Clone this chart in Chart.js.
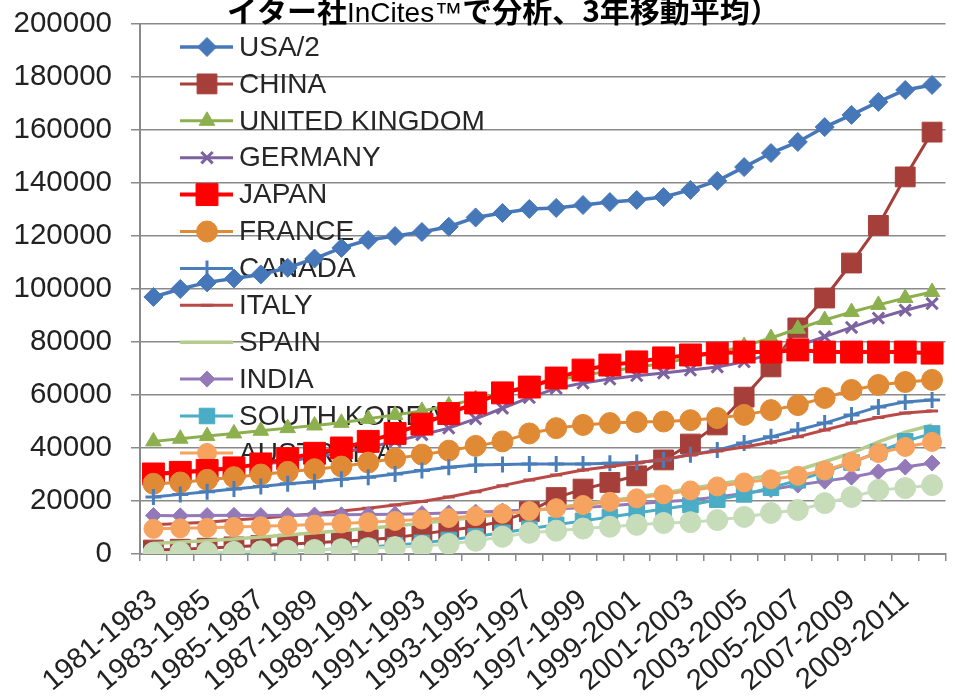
<!DOCTYPE html>
<html>
<head>
<meta charset="utf-8">
<script src="https://cdn.jsdelivr.net/npm/chart.js@4.4.1/dist/chart.umd.min.js"></script>
<style>
  html, body { margin: 0; padding: 0; background: #fff; overflow: hidden; width: 955px; height: 697px; }
  canvas { display: block; }
</style>
</head>
<body>
<canvas id="chart" width="962" height="697"></canvas>
<script>
// 3-year moving windows
const periods = ['1981-1983','1982-1984','1983-1985','1984-1986','1985-1987','1986-1988','1987-1989','1988-1990',
  '1989-1991','1990-1992','1991-1993','1992-1994','1993-1995','1994-1996','1995-1997','1996-1998','1997-1999',
  '1998-2000','1999-2001','2000-2002','2001-2003','2002-2004','2003-2005','2004-2006','2005-2007','2006-2008',
  '2007-2009','2008-2010','2009-2011','2010-2012'];

const yTicks = [0, 20000, 40000, 60000, 80000, 100000, 120000, 140000, 160000, 180000, 200000];

// values
const usa = [97000,100000,102500,104000,105500,108000,111500,115500,118500,120000,121500,123500,127000,128700,130200,
  130600,131700,132800,133600,134700,137400,140800,146000,151300,155500,161100,165700,170600,175100,177000];
const china = [1500,1800,2200,2700,3200,3700,4200,4800,5400,6200,7500,9000,10200,12500,16000,21300,24500,27000,29500,
  35500,41500,48700,59200,70600,85300,96600,109800,124000,142300,159200];
const uk = [42500,43500,44500,45500,46500,47500,48500,49500,51000,52500,54000,56000,58500,61000,63500,65500,67500,69000,
  70500,72000,74000,76000,78500,81500,85000,88300,91300,94000,96600,98900];
const germany = [30500,31000,31800,32700,33800,35000,36500,38200,40200,42500,45000,47500,51000,55000,59000,62500,64500,
  66000,67300,68300,69400,70600,72500,75500,78500,82000,85500,89000,92000,94500];
const japan = [30200,30800,31500,32500,34000,36000,38000,40000,42500,45500,49000,53000,57000,60800,63000,66400,69400,
  71300,72500,74000,75100,75800,76200,76200,77000,76200,76200,76200,76200,75800];
const france = [26500,27000,28000,29000,30000,31000,32000,33000,34500,36000,37500,39000,40800,42500,45500,47500,48700,
  49400,49800,50000,50500,51300,52500,54300,56200,58900,61900,63800,64900,65700];
const canada = [21500,22500,23500,24500,25500,26500,27300,28200,29000,30200,31500,32700,33600,33800,34000,34000,34000,
  34200,34500,35500,37500,39200,41900,44200,46800,49400,52500,55500,57400,58100];
const italy = [11000,11500,12000,12800,13500,14300,15200,16200,17300,18500,19800,21500,23500,25800,27900,29800,31700,
  33000,34300,35800,37400,38900,40400,42200,44200,46800,49400,51500,53200,54000];
const spain = [4000,4500,5000,5700,6400,7200,8000,8800,9700,10600,11600,12700,13900,15100,16300,17500,18800,20100,
  21500,23000,24700,26300,27900,29800,31700,34800,38100,42300,46000,48700];
const india = [14500,14400,14500,14600,14500,14600,14700,14800,14900,15000,15200,15500,15800,16200,16600,17000,17500,
  18200,19000,19700,20400,21500,22800,24300,26000,27500,29000,31000,32800,34300];
const korea = [300,350,450,600,800,1100,1500,2000,2600,3300,4200,5300,6600,8000,9500,11000,12500,14000,15500,17000,
  18500,20500,22500,25000,27800,31000,34500,38500,42500,45500];
const australia = [9500,9700,9900,10200,10500,10800,11100,11500,12000,12500,13000,13600,14300,15200,16200,17300,18500,
  19700,21000,22500,24000,25500,27000,28200,29500,31500,34700,38100,40400,42300];
// pale green series whose legend entry is cut off in the picture
const unlisted = [500,600,700,800,1000,1200,1500,1800,2200,2600,3000,3800,5000,6500,8000,8800,9600,10300,11000,11700,
  12000,12800,14000,15500,16600,19200,21500,24200,24900,26000];

const titleText = ['イター社', 'InCites™', 'で分析、3年移動平均）'];

function series(label, data, color, style, radius, width){
  return {
    label, data,
    borderColor: color, backgroundColor: color,
    pointBackgroundColor: color, pointBorderColor: color,
    pointStyle: style || 'circle',
    pointRadius: radius, pointHoverRadius: radius,
    pointBorderWidth: (style === 'cross' || style === 'crossRot' || style === 'line') ? 3 : 1,
    borderWidth: width,
    tension: 0
  };
}

const datasets = [
  series('USA/2', usa, '#4677B8', 'rectRot', 9.5, 3.5),
  series('CHINA', china, '#A63F3A', 'rect', 14, 3),
  series('UNITED KINGDOM', uk, '#8DB04F', 'triangle', 9, 3),
  series('GERMANY', germany, '#7C62A0', 'crossRot', 8, 3),
  series('JAPAN', japan, '#FF0000', 'rect', 15.5, 4),
  series('FRANCE', france, '#E08A35', 'circle', 10.5, 3),
  series('CANADA', canada, '#4A7EBB', 'cross', 8, 3),
  series('ITALY', italy, '#B94A48', 'line', 6, 3),
  series('SPAIN', spain, '#B5CC8C', 'circle', 0, 3.5),
  series('INDIA', india, '#9479B9', 'rectRot', 8, 3),
  series('SOUTH KOREA', korea, '#4BACC6', 'rect', 11, 3),
  series('AUSTRALIA', australia, '#F5A35F', 'circle', 9.5, 3),
  series('', unlisted, '#C7DDBA', 'circle', 10.5, 3)
];
// later series on top, as in the spreadsheet
datasets.forEach((d, i) => { d.order = -i; });

// legend drawn inside the plot, under the lines
const insideLegend = {
  id: 'insideLegend',
  beforeDatasetsDraw(chart){
    const ctx = chart.ctx;
    ctx.save();
    let row = 0;
    chart.data.datasets.forEach(ds => {
      if (!ds.label) return;
      const y = 47 + row * 36.9;
      ctx.strokeStyle = ds.borderColor;
      ctx.fillStyle = ds.borderColor;
      ctx.lineWidth = ds.borderWidth;
      ctx.beginPath(); ctx.moveTo(180, y); ctx.lineTo(233, y); ctx.stroke();
      if (ds.pointRadius > 0){
        ctx.lineWidth = ds.pointBorderWidth;
        Chart.helpers.drawPoint(ctx, { pointStyle: ds.pointStyle, radius: ds.pointRadius, borderWidth: ds.pointBorderWidth, rotation: 0 }, 207, y);
      }
      ctx.fillStyle = '#262626';
      ctx.font = '28px "Liberation Sans", Arial, sans-serif';
      ctx.textBaseline = 'middle';
      ctx.textAlign = 'left';
      ctx.fillText(ds.label, 239, y + 1);
      row++;
    });
    ctx.restore();
  }
};

// title, cut off at the top of the picture
const cutTitle = {
  id: 'cutTitle',
  afterDraw(chart){
    const ctx = chart.ctx;
    ctx.save();
    ctx.fillStyle = '#000';
    ctx.textBaseline = 'alphabetic';
    ctx.textAlign = 'left';
    const fonts = ['bold 30px "Noto Sans CJK JP", sans-serif', '28px "Liberation Sans", Arial, sans-serif', 'bold 30px "Noto Sans CJK JP", sans-serif'];
    let x = 227;
    titleText.forEach((t, i) => {
      ctx.font = fonts[i];
      ctx.fillText(t, x, 22);
      x += ctx.measureText(t).width;
    });
    ctx.restore();
  }
};

const grey = '#8a8a8a';

new Chart(document.getElementById('chart'), {
  type: 'line',
  data: { labels: periods, datasets },
  options: {
    responsive: false,
    animation: false,
    events: [],
    layout: { padding: { top: 24, right: 5, left: 0, bottom: 0 } },
    plugins: { legend: { display: false }, tooltip: { enabled: false }, title: { display: false } },
    scales: {
      x: {
        offset: true,
        grid: { display: true, drawOnChartArea: false, drawTicks: true, tickLength: 7, color: grey, lineWidth: 1.5, offset: true },
        border: { display: true, color: grey, width: 2 },
        ticks: {
          autoSkip: false, minRotation: 40, maxRotation: 40, padding: 22,
          color: '#222', font: { family: '"Liberation Sans", Arial, sans-serif', size: 29 },
          callback: (v, i) => (i % 2 === 0 ? periods[i] : '')
        },
        // keep the plot box where the picture has it; labels may overflow
        afterFit(scale){ scale.height = 143; scale.paddingLeft = 0; scale.paddingRight = 0; }
      },
      y: {
        min: yTicks[0], max: yTicks[yTicks.length - 1],
        afterBuildTicks(scale){ scale.ticks = yTicks.map(v => ({ value: v })); },
        grid: { color: grey, lineWidth: 1.5, tickLength: 9 },
        border: { color: grey, width: 2 },
        ticks: {
          padding: 19, color: '#222',
          font: { family: '"Liberation Sans", Arial, sans-serif', size: 29.5 },
          callback: v => String(v)
        },
        afterFit(scale){ scale.width = 140; scale.paddingTop = 0; scale.paddingBottom = 0; }
      }
    }
  },
  plugins: [insideLegend, cutTitle]
});
</script>
</body>
</html>
